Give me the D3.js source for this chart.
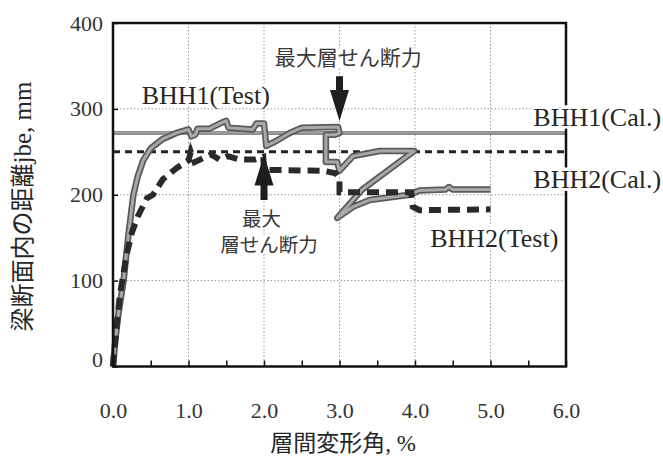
<!DOCTYPE html>
<html lang="ja">
<head>
<meta charset="UTF-8">
<title>梁断面内の距離 jbe</title>
<script src="https://cdn.jsdelivr.net/npm/d3@7"></script>
<style>
  * { margin: 0; padding: 0; }
  body { background: #fff; }
  svg { display: block; }
  .serif { font-family: 'Liberation Serif', 'Times New Roman', serif; font-weight: normal; }
  .jp { font-family: 'Noto Sans CJK JP', sans-serif; }
</style>
</head>
<body>
<svg id="chart" width="663" height="459"></svg>
<script>
var xTicks = [0, 1, 2, 3, 4, 5, 6];
var xMinorTicks = [0, 0.5, 1, 1.5, 2, 2.5, 3, 3.5, 4, 4.5, 5, 5.5, 6];
var yTicks = [0, 100, 200, 300, 400];
var gridX = [1, 2, 3, 4, 5];
var gridY = [100, 200, 300];

// [層間変形角 %, jbe mm]
var bhh1Test = [
  [0, 0], [0.03, 30], [0.07, 60], [0.14, 100], [0.2, 150], [0.27, 200], [0.33, 222],
  [0.4, 240], [0.5, 254], [0.66, 265], [0.84, 272], [1.0, 276], [1.04, 268], [1.09, 270],
  [1.12, 277], [1.28, 277], [1.44, 284], [1.5, 286], [1.53, 278], [1.85, 276], [1.9, 283],
  [2.0, 283], [2.03, 257], [2.15, 262], [2.34, 272], [2.5, 278], [2.98, 279], [3.0, 272],
  [2.95, 270], [2.82, 270], [2.82, 238], [2.97, 238], [3.0, 228], [3.18, 245], [3.53, 251],
  [3.99, 251], [3.3, 206], [2.97, 173], [3.18, 186], [3.4, 194], [3.93, 200], [4.06, 205],
  [4.4, 206], [4.45, 209], [4.5, 206], [5.0, 206]
];
var bhh2Test = [
  [0, 0], [0.04, 40], [0.09, 83], [0.18, 130], [0.25, 156], [0.33, 175], [0.45, 196],
  [0.53, 200], [0.66, 218], [0.84, 231], [1.0, 240], [1.03, 250], [1.08, 238], [1.3, 247],
  [1.41, 241], [1.52, 245], [1.68, 241], [1.88, 241], [1.99, 244], [2.0, 229], [2.78, 228],
  [2.95, 225], [3.0, 219], [3.0, 203], [3.95, 203], [3.97, 186], [4.06, 182], [5.0, 183]
];
var bhh1Cal = [[0, 272], [6, 272]];
var bhh2Cal = [[0, 250], [6, 250]];

var seriesLabels = [
  { text: 'BHH1(Test)', x: 0.38, y: 305.7, anchor: 'start' },
  { text: 'BHH1(Cal.)', x: 5.567, y: 280, anchor: 'start' },
  { text: 'BHH2(Cal.)', x: 5.567, y: 207.5, anchor: 'start' },
  { text: 'BHH2(Test)', x: 5.898, y: 139.5, anchor: 'end' }
];
// 注記: 1つの text に複数行
var notes = [
  { lines: [{ text: '最大層せん断力', x: 3.117, y: 351 }], anchor: 'middle', size: 21 },
  { lines: [{ text: '最大', x: 1.71, y: 163.5 }, { text: '層せん断力', x: 1.42, y: 133.5 }], anchor: 'start', size: 19.5 }
];
var arrows = [
  { x: 3.0, from: 338, to: 286 },
  { x: 2.0, from: 194, to: 247 }
];

var x = d3.scaleLinear().domain([0, 6]).range([113, 566]);
var y = d3.scaleLinear().domain([0, 400]).range([366.5, 23]);

var svg = d3.select('#chart');

// grid
var grid = svg.append('g').attr('stroke', '#9a9a9a').attr('stroke-width', 1).attr('stroke-dasharray', '1.5,2');
grid.selectAll('.gx').data(gridX).join('line')
  .attr('x1', function(d) { return x(d); }).attr('x2', function(d) { return x(d); })
  .attr('y1', y(400)).attr('y2', y(0));
grid.selectAll('.gy').data(gridY).join('line')
  .attr('class', 'gy')
  .attr('x1', x(0)).attr('x2', x(6))
  .attr('y1', function(d) { return y(d); }).attr('y2', function(d) { return y(d); });

var line = d3.line().x(function(d) { return x(d[0]); }).y(function(d) { return y(d[1]); });

// calculated values
svg.append('path').datum(bhh1Cal).attr('d', line).attr('fill', 'none')
  .attr('stroke', '#6a6a6a').attr('stroke-width', 3.5);
svg.append('path').datum(bhh1Cal).attr('d', line).attr('fill', 'none')
  .attr('stroke', '#b8b8b8').attr('stroke-width', 1.2);
svg.append('path').datum(bhh2Cal).attr('d', line).attr('fill', 'none')
  .attr('stroke', '#222').attr('stroke-width', 3).attr('stroke-dasharray', '7,5');

// test curves
svg.append('path').datum(bhh1Test).attr('d', line).attr('fill', 'none')
  .attr('stroke', '#5a5a5a').attr('stroke-width', 6.5).attr('stroke-linejoin', 'round');
svg.append('path').datum(bhh1Test).attr('d', line).attr('fill', 'none')
  .attr('stroke', '#a8a8a8').attr('stroke-width', 3).attr('stroke-linejoin', 'round');
svg.append('path').datum(bhh2Test).attr('d', line).attr('fill', 'none')
  .attr('stroke', '#2a2a2a').attr('stroke-width', 6).attr('stroke-dasharray', '12,7');

// frame
svg.append('rect')
  .attr('x', x(0)).attr('y', y(400))
  .attr('width', x(6) - x(0)).attr('height', y(0) - y(400))
  .attr('fill', 'none').attr('stroke', '#111').attr('stroke-width', 2.5);

function styleTicks(g) {
  g.select('.domain').remove();
  g.selectAll('line').attr('stroke', '#111').attr('stroke-width', 1.5);
  g.selectAll('text')
    .attr('class', 'serif')
    .style('font-family', '"Liberation Serif", "Times New Roman", serif')
    .style('font-size', '22px')
    .style('font-weight', '400')
    .attr('fill', '#333');
}

// axes
svg.append('g')
  .attr('transform', 'translate(0,' + y(0) + ')')
  .call(d3.axisBottom(x).tickValues(xMinorTicks).tickSize(-6).tickPadding(36)
    .tickFormat(function(d) { return xTicks.indexOf(d) >= 0 ? d.toFixed(1) : ''; }))
  .call(styleTicks);

svg.append('g')
  .attr('transform', 'translate(' + x(0) + ',0)')
  .call(d3.axisLeft(y).tickValues(yTicks).tickSize(-5).tickPadding(10))
  .call(styleTicks)
  .call(function(g) {
    g.selectAll('.tick text').filter(function(d) { return d === 0; }).attr('dy', '0em');
  });

// arrows
svg.selectAll('.arrow').data(arrows).join('path')
  .attr('class', 'arrow')
  .attr('fill', '#1e1e1e')
  .attr('d', function(d) {
    var cx = x(d.x), ty = y(d.from), py = y(d.to);
    var dir = py > ty ? 1 : -1;
    var base = py - dir * 31;
    return 'M' + (cx - 3.5) + ',' + ty + 'L' + (cx + 3.5) + ',' + ty +
      'L' + (cx + 3.5) + ',' + base + 'L' + (cx + 9.5) + ',' + base +
      'L' + cx + ',' + py + 'L' + (cx - 9.5) + ',' + base +
      'L' + (cx - 3.5) + ',' + base + 'Z';
  });

// labels with white backing
function addLabel(lines, anchor, cls, size, fill) {
  var g = svg.append('g');
  var bgs = g.selectAll('rect').data(lines).join('rect').attr('fill', '#fff');
  var t = g.append('text')
    .attr('class', cls)
    .attr('text-anchor', anchor)
    .attr('font-size', size)
    .attr('fill', fill);
  var spans = t.selectAll('tspan').data(lines).join('tspan')
    .attr('x', function(d) { return x(d.x); })
    .attr('y', function(d) { return y(d.y); })
    .text(function(d) { return d.text; });
  spans.each(function(d, i) {
    var w = this.getComputedTextLength();
    var left = x(d.x) - (anchor === 'middle' ? w / 2 : anchor === 'end' ? w : 0);
    d3.select(bgs.nodes()[i])
      .attr('x', left - 1).attr('width', w + 2)
      .attr('y', y(d.y) - size * 0.8).attr('height', size * 0.9);
  });
}
seriesLabels.forEach(function(d) { addLabel([d], d.anchor, 'serif', 26, '#262626'); });
notes.forEach(function(d) { addLabel(d.lines, d.anchor, 'jp', d.size, '#383838'); });

// axis titles
var yt = svg.append('text')
  .attr('transform', 'translate(31,206.5) rotate(-90)')
  .attr('text-anchor', 'middle')
  .attr('fill', '#262626');
yt.append('tspan').attr('class', 'jp').attr('font-size', 24).text('梁断面内の距離');
yt.append('tspan').attr('class', 'serif').attr('font-size', 25).text('jbe, mm');

var xt = svg.append('text')
  .attr('x', 343).attr('y', 451)
  .attr('text-anchor', 'middle')
  .attr('fill', '#262626');
xt.append('tspan').attr('class', 'jp').attr('font-size', 23).text('層間変形角');
xt.append('tspan').attr('class', 'serif').attr('font-size', 23).text(', %');
</script>
</body>
</html>
